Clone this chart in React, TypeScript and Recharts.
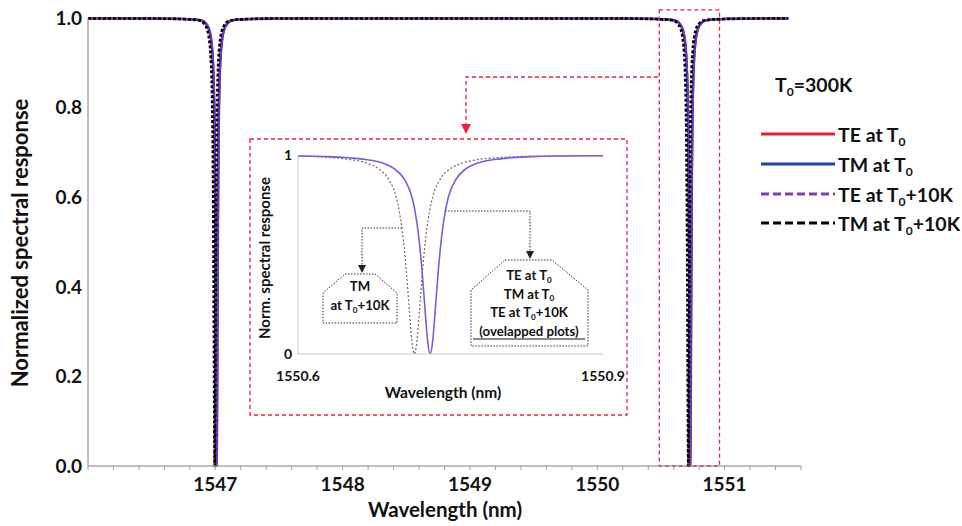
import React from 'react';
import { LineChart, Line, XAxis, YAxis, ReferenceArea } from 'recharts';

const FONT = 'Lato, "Open Sans", "DejaVu Sans", sans-serif';

// ---------- main chart axes ----------
const xTicksMain = [
  1546.0, 1546.2, 1546.4, 1546.6, 1546.8, 1547.0, 1547.2, 1547.4, 1547.6, 1547.8,
  1548.0, 1548.2, 1548.4, 1548.6, 1548.8, 1549.0, 1549.2, 1549.4, 1549.6, 1549.8,
  1550.0, 1550.2, 1550.4, 1550.6, 1550.8, 1551.0, 1551.2, 1551.4, 1551.6,
];
const xLabelTicks = [1547, 1548, 1549, 1550, 1551];
const yLabelTicks = [0.0, 0.2, 0.4, 0.6, 0.8, 1.0];
const yMinorTicks = [
  0.0, 0.05, 0.1, 0.15, 0.2, 0.25, 0.3, 0.35, 0.4, 0.45, 0.5,
  0.55, 0.6, 0.65, 0.7, 0.75, 0.8, 0.85, 0.9, 0.95, 1.0,
];

// ---------- resonance line shape ----------
const resonanceOffsets = [
  -0.6, -0.3, -0.2, -0.13, -0.1, -0.08, -0.06, -0.045, -0.035, -0.025, -0.018, -0.015, -0.012, -0.008, -0.005, -0.0025,
  0,
  0.0025, 0.005, 0.008, 0.012, 0.015, 0.018, 0.025, 0.035, 0.045, 0.06, 0.08, 0.1, 0.13, 0.2, 0.3, 0.6,
];
const resonanceResponse = [
  0.999, 0.998, 0.997, 0.995, 0.992, 0.986, 0.975, 0.956, 0.93, 0.875, 0.79, 0.72, 0.62, 0.42, 0.22, 0.065,
  0.0,
  0.065, 0.22, 0.42, 0.62, 0.72, 0.79, 0.875, 0.93, 0.956, 0.975, 0.986, 0.992, 0.995, 0.997, 0.998, 0.999,
];
const plateauWavelengths = [1546.0, 1548.87, 1551.5];
const plateauResponse = [0.999, 0.999, 0.999];

// resonance wavelengths (nm) of each series
const teT0Dips = [1547.01, 1550.73];
const tmT0Dips = [1547.01, 1550.73];
const teT10Dips = [1547.01, 1550.73];
const tmT10Dips = [1546.995, 1550.715];

// ---------- inset ----------
const insetXTicks = [1550.6, 1550.9];
const insetYTicks = [0, 1];
const insetOverlapDip = [1550.73];
const insetTmT10Dip = [1550.7145];

type Pt = { x: number; y: number };
function buildSeries(dips: number[]): Pt[] {
  const pts: Pt[] = plateauWavelengths.map((x, i) => ({ x, y: plateauResponse[i] }));
  dips.forEach((c) => {
    resonanceOffsets.forEach((o, i) => pts.push({ x: +(c + o).toFixed(5), y: resonanceResponse[i] }));
  });
  pts.sort((a, b) => a.x - b.x);
  return pts;
}

const teT0Data = buildSeries(teT0Dips);
const tmT0Data = buildSeries(tmT0Dips);
const teT10Data = buildSeries(teT10Dips);
const tmT10Data = buildSeries(tmT10Dips);
const insetSolidData = buildSeries(insetOverlapDip);
const insetDottedData = buildSeries(insetTmT10Dip);

const RED = '#f2203c';

const Sub = ({ children, d = 4 }: { children: React.ReactNode; d?: number }) => (
  <tspan dy={d} fontSize="0.62em">{children}</tspan>
);

export default function App() {
  const tickStyle = { fontSize: 19, fontWeight: 700, fill: '#111', fontFamily: FONT };
  const insetTick = { fontSize: 14, fontWeight: 700, fill: '#111', fontFamily: FONT };
  const cs = { fontSize: 13.2, fontWeight: 700, fill: '#111' } as const;
  return (
    <div style={{ position: 'absolute', left: 0, top: 0, width: 962, height: 526, background: '#fff', overflow: 'hidden' }}>
      <div style={{ position: 'absolute', left: 0, top: 0 }}>
        <LineChart width={962} height={526} margin={{ top: 18, right: 161, bottom: 30, left: 28 }}>
          <XAxis
            type="number"
            dataKey="x"
            domain={[1546, 1551.6]}
            allowDataOverflow
            ticks={xTicksMain}
            interval={0}
            tickFormatter={(v: number) => (xLabelTicks.some((t) => Math.abs(t - v) < 1e-6) ? String(Math.round(v)) : '')}
            axisLine={{ stroke: '#808080', strokeWidth: 1 }}
            tickLine={{ stroke: '#a0a0a0' }}
            tickSize={4}
            tickMargin={8}
            height={30}
            tick={tickStyle}
          />
          <YAxis
            type="number"
            domain={[0, 1]}
            ticks={yLabelTicks}
            interval={0}
            tickFormatter={(v: number) => v.toFixed(1)}
            axisLine={{ stroke: '#808080', strokeWidth: 1 }}
            tickLine={false}
            tickSize={0}
            tickMargin={6}
            width={60}
            tick={tickStyle}
          />
          <YAxis
            yAxisId="minor"
            type="number"
            domain={[0, 1]}
            ticks={yMinorTicks}
            interval={0}
            mirror
            tick={false}
            axisLine={false}
            tickLine={{ stroke: '#a0a0a0' }}
            tickSize={4}
          />
          <ReferenceArea
            x1={1550.487}
            x2={1550.96}
            y1={0}
            y2={1.018}
            fill="none"
            fillOpacity={0}
            stroke={RED}
            strokeWidth={1.3}
            strokeDasharray="4 3"
            ifOverflow="visible"
          />
          <Line data={teT0Data} dataKey="y" type="monotone" stroke="#ee1c2e" strokeWidth={2.6} dot={false} isAnimationActive={false} />
          <Line data={tmT0Data} dataKey="y" type="monotone" stroke="#2a3fd6" strokeWidth={2.2} dot={false} isAnimationActive={false} />
          <Line data={teT10Data} dataKey="y" type="monotone" stroke="#7a3fb8" strokeWidth={2.2} strokeDasharray="4 3" dot={false} isAnimationActive={false} />
          <Line data={tmT10Data} dataKey="y" type="monotone" stroke="#000000" strokeWidth={2.6} strokeDasharray="3 2" dot={false} isAnimationActive={false} />
        </LineChart>
      </div>

      {/* inset chart */}
      <div style={{ position: 'absolute', left: 250, top: 139 }}>
        <LineChart width={378} height={277} margin={{ top: 16, right: 25, bottom: 22, left: 18 }}>
          <XAxis
            type="number"
            dataKey="x"
            domain={[1550.6, 1550.9]}
            allowDataOverflow
            ticks={insetXTicks}
            interval={0}
            tickFormatter={(v: number) => v.toFixed(1)}
            axisLine={{ stroke: '#c8c8c8' }}
            tickLine={false}
            tickSize={0}
            tickMargin={17}
            height={40}
            tick={insetTick}
          />
          <YAxis
            type="number"
            domain={[0, 1]}
            allowDataOverflow
            ticks={insetYTicks}
            interval={0}
            axisLine={{ stroke: '#c8c8c8' }}
            tickLine={false}
            tickSize={0}
            tickMargin={6}
            width={30}
            tick={insetTick}
          />
          <Line data={insetDottedData} dataKey="y" type="monotone" stroke="#6a6a6a" strokeWidth={1.2} strokeDasharray="2 2" dot={false} isAnimationActive={false} />
          <Line data={insetSolidData} dataKey="y" type="monotone" stroke="#7a5cdc" strokeWidth={1.6} dot={false} isAnimationActive={false} />
        </LineChart>
      </div>

      {/* annotations */}
      <svg width={962} height={526} style={{ position: 'absolute', left: 0, top: 0, pointerEvents: 'none' }} fontFamily={FONT}>
        {/* connector */}
        <path d="M658,77 L466,77 L466,126" fill="none" stroke={RED} strokeWidth={1.3} strokeDasharray="4 3" />
        <polygon points="461,124 471,124 466,134" fill={RED} />
        {/* inset frame */}
        <rect x={250} y={139} width={377} height={276} fill="none" stroke={RED} strokeWidth={1.3} strokeDasharray="4 3" />

        {/* left callout */}
        <path d="M402,228 L362,228 L362,266" fill="none" stroke="#333" strokeWidth={1} strokeDasharray="1.5 1.5" />
        <polygon points="358,265 366,265 362,273" fill="#222" />
        <polygon points="345,274 375,274 397,293 397,323 323,323 323,293" fill="#fff" stroke="#333" strokeWidth={1} strokeDasharray="1.5 1.5" />
        <text x={360} y={291} textAnchor="middle" {...cs}>TM</text>
        <text x={360} y={310} textAnchor="middle" {...cs}>
          at T<Sub d={2.5}>0</Sub><tspan dy={-2.5}>+10K</tspan>
        </text>

        {/* right callout */}
        <path d="M445,211 L530,211 L530,252" fill="none" stroke="#333" strokeWidth={1} strokeDasharray="1.5 1.5" />
        <polygon points="526,251 534,251 530,259" fill="#222" />
        <polygon points="505,260 552,260 588,290 588,346 471,346 471,290" fill="#fff" stroke="#333" strokeWidth={1} strokeDasharray="1.5 1.5" />
        <text x={529} y={280} textAnchor="middle" {...cs}>
          TE at T<Sub d={2.5}>0</Sub>
        </text>
        <text x={529} y={298.5} textAnchor="middle" {...cs}>
          TM at T<Sub d={2.5}>0</Sub>
        </text>
        <text x={529} y={317} textAnchor="middle" {...cs}>
          TE at T<Sub d={2.5}>0</Sub><tspan dy={-2.5}>+10K</tspan>
        </text>
        <text x={529} y={335.5} textAnchor="middle" {...cs}>(ovelapped plots)</text>
        <line x1={473} y1={339} x2={585} y2={339} stroke="#111" strokeWidth={1} />

        {/* inset titles */}
        <text transform="translate(270,258) rotate(-90)" textAnchor="middle" fontSize={15} fontWeight={700} fill="#111">
          Norm. spectral response
        </text>
        <text x={443} y={398} textAnchor="middle" fontSize={15.5} fontWeight={700} fill="#111">Wavelength (nm)</text>

        {/* main titles */}
        <text transform="translate(28,243) rotate(-90)" textAnchor="middle" fontSize={22} fontWeight={700} fill="#111">
          Normalized spectral response
        </text>
        <text x={445} y={517} textAnchor="middle" fontSize={20.5} fontWeight={700} fill="#111">Wavelength (nm)</text>

        {/* legend */}
        <text x={775} y={92} fontSize={19.5} fontWeight={700} fill="#111">
          T<Sub>0</Sub><tspan dy={-4}>=300K</tspan>
        </text>
        <line x1={761} y1={134} x2={835} y2={134} stroke="#ee1c2e" strokeWidth={3} />
        <line x1={761} y1={164} x2={835} y2={164} stroke="#1c3fb8" strokeWidth={3} />
        <line x1={761} y1={194} x2={835} y2={194} stroke="#7a3fb8" strokeWidth={3} strokeDasharray="8 4" />
        <line x1={761} y1={223} x2={835} y2={223} stroke="#000" strokeWidth={3} strokeDasharray="8 4" />
        <text x={838} y={142} fontSize={19.5} fontWeight={700} fill="#111">
          TE at T<Sub>0</Sub>
        </text>
        <text x={838} y={172} fontSize={19.5} fontWeight={700} fill="#111">
          TM at T<Sub>0</Sub>
        </text>
        <text x={838} y={202} fontSize={19.5} fontWeight={700} fill="#111">
          TE at T<Sub>0</Sub><tspan dy={-4}>+10K</tspan>
        </text>
        <text x={838} y={231} fontSize={19.5} fontWeight={700} fill="#111">
          TM at T<Sub>0</Sub><tspan dy={-4}>+10K</tspan>
        </text>
      </svg>
    </div>
  );
}
